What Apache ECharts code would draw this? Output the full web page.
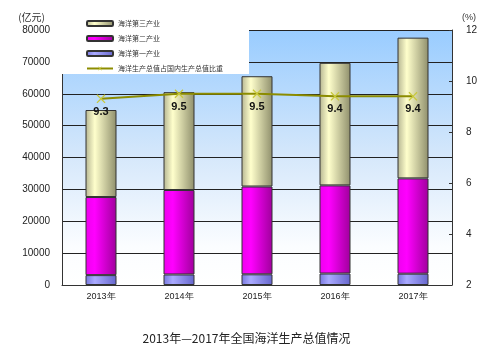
<!DOCTYPE html>
<html><head><meta charset="utf-8">
<script src="https://cdn.jsdelivr.net/npm/echarts@6/dist/echarts.min.js"></script>
<style>html,body{margin:0;padding:0;background:#fff}#c{width:493px;height:348px}</style>
</head><body><div id="c"></div>
<script>
const categories = ['2013年','2014年','2015年','2016年','2017年'];
const primary = [3100, 3300, 3350, 3600, 3550];
const secondary = [24500, 26500, 27550, 27650, 29900];
const tertiary = [27300, 30700, 34600, 38450, 44150];
const ratio = [9.3, 9.5, 9.5, 9.4, 9.4];
const names = ['海洋第三产业','海洋第二产业','海洋第一产业','海洋生产总值占国内生产总值比重'];
const title = '2013年—2017年全国海洋生产总值情况';

function hgrad(a,b,c){return new echarts.graphic.LinearGradient(0,0,1,0,[{offset:0,color:a},{offset:0.3,color:b},{offset:1,color:c}]);}
const font = 'Liberation Sans, Arial, sans-serif';
const chart = echarts.init(document.getElementById('c'));
chart.setOption({
  animation:false,
  title:{text:title,left:'center',top:327,textStyle:{fontSize:12,fontWeight:'normal',color:'#222',fontFamily:'Noto Sans CJK SC'}},
  grid:{left:62,right:41,top:30,bottom:63,show:true,borderWidth:0,
    backgroundColor:new echarts.graphic.LinearGradient(0,0,0,1,[{offset:0,color:'#99ccff'},{offset:0.5,color:'#d6e8fb'},{offset:0.85,color:'#fbfdff'},{offset:1,color:'#ffffff'}])},
  graphic:[{type:'rect',shape:{x:62,y:29,width:187,height:45},style:{fill:'#ffffff'},z:1}],
  legend:{orient:'vertical',left:86,top:20,padding:0,itemWidth:26,itemHeight:5,itemGap:8,
    data:names,textStyle:{fontSize:7,color:'#333',fontFamily:'Noto Sans CJK SC'},z:5},
  xAxis:{type:'category',data:categories,
    axisLine:{lineStyle:{color:'#333',width:1}},
    axisTick:{inside:true,length:3,lineStyle:{color:'#333'}},
    axisLabel:{fontSize:9,color:'#222',margin:7,fontFamily:font}},
  yAxis:[
    {type:'value',min:0,max:80000,interval:10000,name:'(亿元)',nameLocation:'end',nameGap:8,
     nameTextStyle:{fontSize:10,color:'#333',align:'right',padding:[0,17,0,0],fontFamily:'Noto Sans CJK SC'},
     axisLine:{show:true,lineStyle:{color:'#333'}},axisTick:{show:false},
     axisLabel:{fontSize:10,color:'#222',margin:12,fontFamily:font,formatter:function(v){return String(v);}},
     splitLine:{lineStyle:{color:'#222',width:1}}},
    {type:'value',min:2,max:12,interval:2,name:'(%)',nameLocation:'end',nameGap:8,
     nameTextStyle:{fontSize:9,color:'#333',align:'left',padding:[0,0,0,10],fontFamily:font},
     axisLine:{show:true,lineStyle:{color:'#333'}},axisTick:{show:true,inside:true,length:3,lineStyle:{color:'#333'}},
     axisLabel:{fontSize:10,color:'#222',margin:14,fontFamily:font},
     splitLine:{show:false}}
  ],
  series:[
    {name:names[2],type:'bar',stack:'a',data:primary,barWidth:31,z:2,
     itemStyle:{color:hgrad('#7777dd','#aaaaff','#6666cc'),borderColor:'#333',borderWidth:1}},
    {name:names[1],type:'bar',stack:'a',data:secondary,barWidth:31,z:2,
     itemStyle:{color:hgrad('#ee00ee','#ff00ff','#a0009c'),borderColor:'#333',borderWidth:1}},
    {name:names[0],type:'bar',stack:'a',data:tertiary,barWidth:31,z:2,
     itemStyle:{color:hgrad('#b5b592','#ffffcc','#8f8f6c'),borderColor:'#333',borderWidth:1}},
    {name:names[3],type:'line',yAxisIndex:1,data:ratio,z:4,
     symbol:'path://M0,1L1,0L5,4L9,0L10,1L6,5L10,9L9,10L5,6L1,10L0,9L4,5Z',symbolSize:9,
     lineStyle:{color:'#8c8c00',width:2},itemStyle:{color:'#c8c83a'},
     label:{show:true,position:'bottom',distance:3,fontSize:11,fontWeight:'bold',color:'#111',fontFamily:font}}
  ]
});
</script></body></html>
